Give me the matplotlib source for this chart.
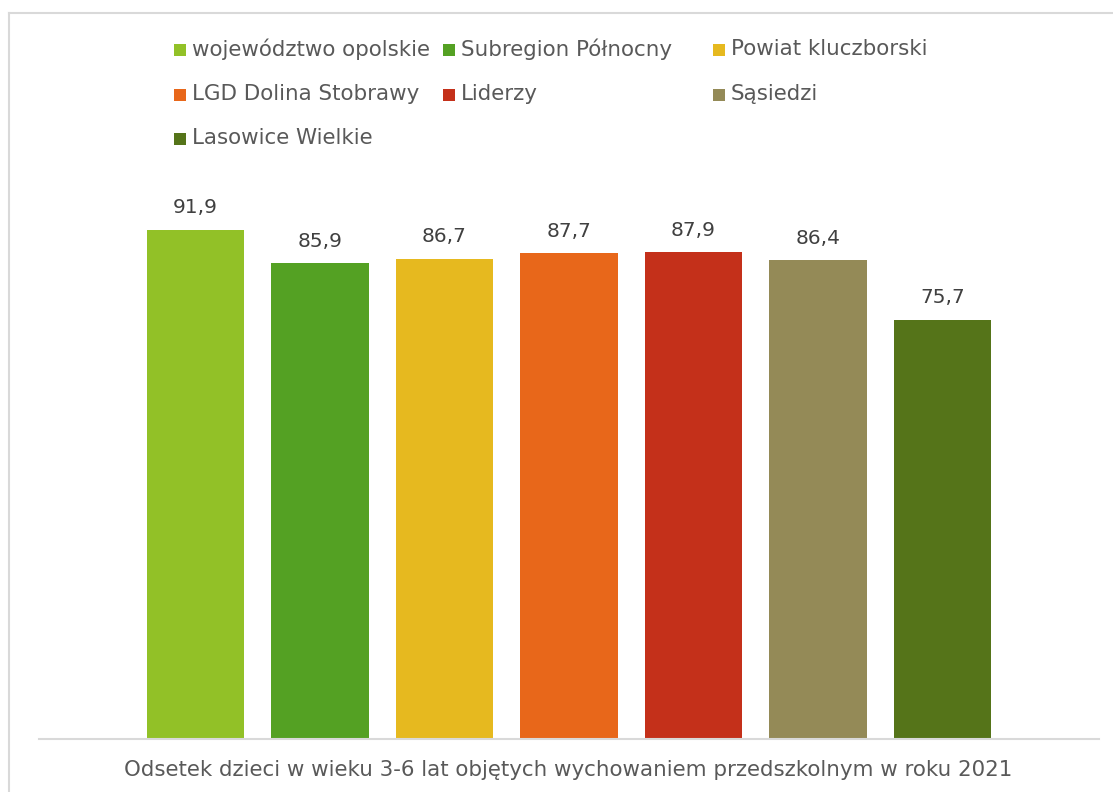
import matplotlib
matplotlib.use("Agg")
import matplotlib.pyplot as plt
from matplotlib.patches import Rectangle
from matplotlib.lines import Line2D

categories = ["województwo opolskie", "Subregion Północny", "Powiat kluczborski",
              "LGD Dolina Stobrawy", "Liderzy", "Sąsiedzi", "Lasowice Wielkie"]
values = [91.9, 85.9, 86.7, 87.7, 87.9, 86.4, 75.7]
colors = ["#92C127", "#54A123", "#E6B91F", "#E8671A", "#C4301A", "#948A57", "#557419"]
title = "Odsetek dzieci w wieku 3-6 lat objętych wychowaniem przedszkolnym w roku 2021"

W, H = 1113, 792
plt.rcParams['font.family'] = ['DejaVu Sans']
fig = plt.figure(figsize=(W / 100, H / 100), dpi=100)
fig.patch.set_facecolor("white")

def fx(px):
    return px / W

def fy(py):
    return 1 - py / H

ax = fig.add_axes([fx(39), fy(739), fx(1099) - fx(39), fy(185) - fy(739)])
xs = list(range(len(values)))
ax.bar(xs, values, width=0.78, color=colors, zorder=2)
ax.set_xlim(-1.257, 7.257)
ax.set_ylim(0, 100)
for s in ["top", "right", "left"]:
    ax.spines[s].set_visible(False)
ax.spines["bottom"].set_color("#D9D9D9")
ax.spines["bottom"].set_linewidth(1.5)
ax.set_xticks([])
ax.set_yticks([])
ax.patch.set_alpha(0)

for x, v in zip(xs, values):
    ax.annotate(f"{v:.1f}".replace(".", ","), (x, v), xytext=(0, 9), textcoords="offset points",
                ha="center", va="bottom", fontsize=14.5, color="#404040")

# legend (row-major, 3 columns)
col_x = [174, 443, 713]
row_y = [50, 95, 139]
for i, (lab, c) in enumerate(zip(categories, colors)):
    r, k = divmod(i, 3)
    x0, y0 = col_x[k], row_y[r]
    fig.patches.append(Rectangle((fx(x0), fy(y0 + 6)), 12 / W, 12 / H,
                                 transform=fig.transFigure, facecolor=c, edgecolor="none"))
    fig.text(fx(x0 + 18), fy(y0 - 1), lab, ha="left", va="center", fontsize=15.4, color="#595959")

fig.text(fx(568), fy(770), title, ha="center", va="center", fontsize=15.4, color="#595959")

# outer frame lines
fig.add_artist(Line2D([fx(9), fx(9)], [fy(13), 0], transform=fig.transFigure, color="#D9D9D9", lw=1.5))
fig.add_artist(Line2D([fx(9), 1], [fy(13), fy(13)], transform=fig.transFigure, color="#D9D9D9", lw=1.5))

fig.savefig("out.png", dpi=100, facecolor="white")
